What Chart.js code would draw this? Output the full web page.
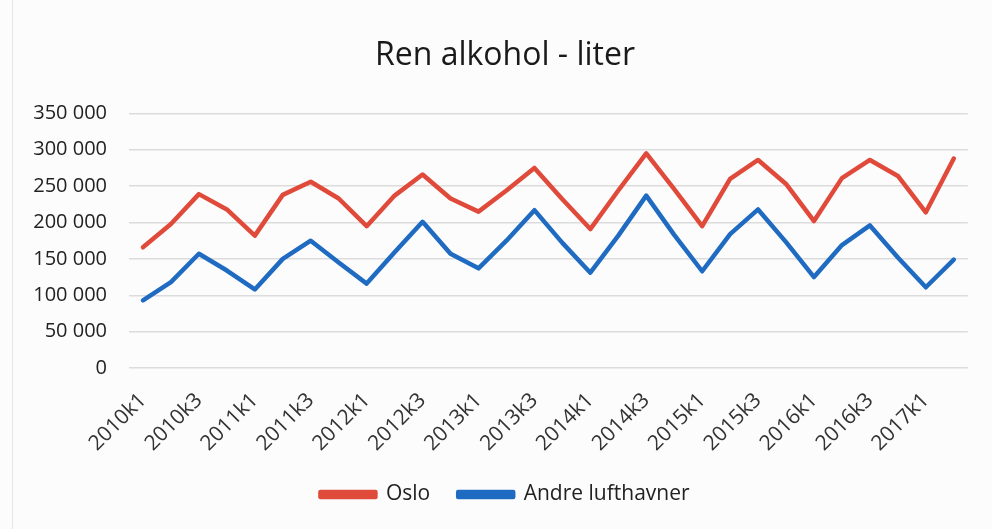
<!DOCTYPE html>
<html><head><meta charset="utf-8">
<script src="https://cdn.jsdelivr.net/npm/chart.js@4"></script>
<style>
html,body{margin:0;padding:0;background:#fcfcfc;}
#wrap{position:relative;width:992px;height:529px;}
#frame{position:absolute;left:12px;top:0;width:1px;height:529px;background:#e6e6e6;}
canvas{display:block;position:absolute;left:0;top:0;}
</style>
</head><body>
<div id="wrap"><div id="frame"></div><canvas id="c" width="992" height="529"></canvas></div>
<script>
const categories = [
  "2010k1","2010k2","2010k3","2010k4",
  "2011k1","2011k2","2011k3","2011k4",
  "2012k1","2012k2","2012k3","2012k4",
  "2013k1","2013k2","2013k3","2013k4",
  "2014k1","2014k2","2014k3","2014k4",
  "2015k1","2015k2","2015k3","2015k4",
  "2016k1","2016k2","2016k3","2016k4",
  "2017k1","2017k2"
];
const osloValues = [166000,198000,239000,218000,182000,238000,256000,233000,195000,237000,266000,233000,215000,244000,275000,232000,191000,244000,295000,246000,195000,260000,286000,253000,202000,261000,286000,264000,214000,288000];
const andreValues = [93000,118000,157000,134000,108000,150000,175000,145000,116000,159000,201000,157000,137000,175000,217000,172000,131000,182000,237000,183000,133000,184000,218000,173000,125000,169000,196000,152000,111000,149000];
const yMin = 0, yMax = 350000, yStep = 50000;
const titleText = "Ren alkohol - liter";
const seriesNames = ["Oslo", "Andre lufthavner"];

const RED = "#e04a3a", BLUE = "#1f6bc2";
const FONT = "'Open Sans', 'Noto Sans', sans-serif";
const Y_FONT_SIZE = 20;

function fmt(v){ return v.toString().replace(/\B(?=(\d{3})+(?!\d))/g, " "); }

// measure widest y label so right-aligned mirrored labels end at x = 107
const mctx = document.createElement("canvas").getContext("2d");
mctx.font = Y_FONT_SIZE + "px " + FONT;
let widestY = 0;
for (let v = yMin; v <= yMax; v += yStep) widestY = Math.max(widestY, mctx.measureText(fmt(v)).width);

new Chart(document.getElementById("c"), {
  type: "line",
  data: {
    labels: categories,
    datasets: [
      { label: seriesNames[0], data: osloValues, borderColor: RED, backgroundColor: RED, borderWidth: 4.5, pointRadius: 0, tension: 0, borderJoinStyle: "round", borderCapStyle: "round" },
      { label: seriesNames[1], data: andreValues, borderColor: BLUE, backgroundColor: BLUE, borderWidth: 4.5, pointRadius: 0, tension: 0, borderJoinStyle: "round", borderCapStyle: "round" }
    ]
  },
  options: {
    responsive: false,
    animation: false,
    layout: { padding: { left: 41, right: 23, top: 0, bottom: 14 } },
    plugins: {
      tooltip: { enabled: false },
      title: {
        display: true, text: titleText, color: "#1a1a1a",
        font: { family: FONT, size: 32, weight: "normal" },
        padding: { top: 37, bottom: 38 }
      },
      legend: {
        position: "bottom",
        labels: {
          color: "#222", font: { family: FONT, size: 21 },
          boxWidth: 55, boxHeight: 5, padding: 28
        }
      }
    },
    scales: {
      x: {
        offset: true,
        grid: { display: false, drawTicks: false },
        border: { display: false },
        ticks: {
          autoSkip: false, maxRotation: 45, minRotation: 45, padding: 20,
          color: "#333", font: { family: FONT, size: 21 },
          callback: function(v, i){ return i % 2 === 0 ? categories[i] : ""; }
        },
        afterFit: function(s){ s.height = 88; }
      },
      y: {
        min: yMin, max: yMax,
        grid: { color: "#dcdcdc", lineWidth: 1.5, drawTicks: false },
        border: { display: false },
        ticks: {
          stepSize: yStep, mirror: true, crossAlign: "far",
          padding: (107 - 129) - widestY, color: "#222",
          font: { family: FONT, size: Y_FONT_SIZE },
          callback: function(v){ return fmt(v); }
        },
        afterFit: function(s){ s.width = 88; }
      }
    }
  }
});
</script>
</body></html>
